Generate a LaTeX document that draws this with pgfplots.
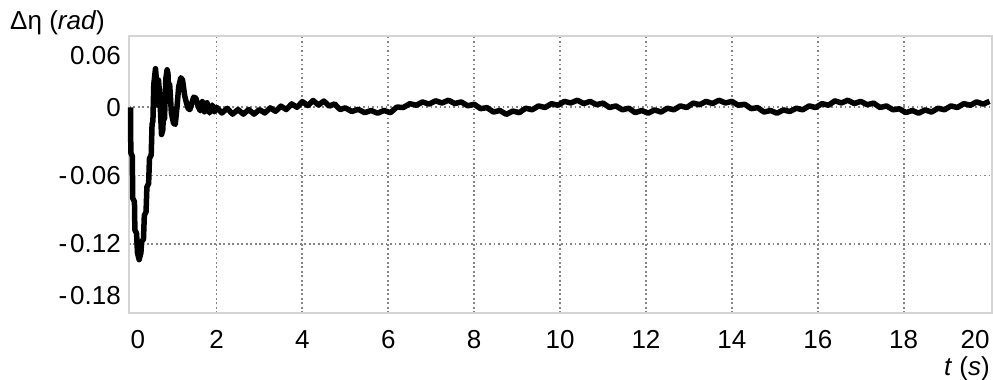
\documentclass[border=0pt]{standalone}
\usepackage{pgfplots}
\pgfplotsset{compat=1.18}
\usepackage{fontspec}
\setmainfont{Liberation Sans}
\begin{document}
\fontsize{26}{30}\selectfont
\begin{tikzpicture}
\begin{axis}[
  scale only axis, width=862.7pt, height=277pt,
  xmin=-0.037, xmax=20.05, ymin=-0.1809, ymax=0.0627,
  clip=false,
  xtick={2,4,...,18},
  xticklabels={2,4,6,8,10,12,14,16,18},
  extra x ticks={0,20},
  extra x tick labels={\makebox[0pt][l]{0},\makebox[0pt][r]{20}},
  extra x tick style={grid=none},
  ytick={-0.12,-0.06,0},
  yticklabels={-\kern3pt0.12,-\kern3pt0.06,0},
  extra y ticks={-0.18,0.06},
  extra y tick labels={\raisebox{16pt}[\height][\depth]{-\kern3pt0.18},\raisebox{-16pt}[\height][\depth]{0.06}},
  extra y tick style={grid=none},
  major tick length=0pt,
  grid=major,
  major grid style={draw=black!48, line width=1.9pt, dash pattern=on 1.9pt off 2.6pt},
  axis line style={draw=black!17, line width=1.6pt},
  tick label style={font=\fontsize{26}{30}\selectfont},
  yticklabel style={inner sep=0pt, xshift=-8pt},
  xticklabel style={anchor=base, yshift=-35pt},
]
\addplot[black, line width=5.5pt, line join=round] coordinates {
(0.000,0.000) (0.005,-0.040) (0.040,-0.043) (0.050,-0.080) (0.090,-0.083)
(0.100,-0.108) (0.140,-0.111) (0.160,-0.128) (0.200,-0.134) (0.240,-0.128)
(0.260,-0.118) (0.300,-0.116) (0.320,-0.095) (0.360,-0.092) (0.380,-0.070)
(0.420,-0.067) (0.440,-0.045) (0.480,-0.042) (0.500,-0.015) (0.520,-0.012)
(0.540,0.020) (0.580,0.034) (0.610,0.020) (0.630,0.002) (0.650,0.024)
(0.680,0.010) (0.720,-0.024) (0.750,-0.020) (0.770,0.000) (0.790,-0.010)
(0.820,0.025) (0.850,0.033) (0.870,0.030) (0.890,0.010) (0.910,0.020)
(0.950,-0.005) (1.000,-0.014) (1.040,-0.015) (1.080,0.000) (1.120,0.018)
(1.170,0.026) (1.210,0.024) (1.260,0.010) (1.300,0.004) (1.340,-0.001)
(1.380,-0.002) (1.420,0.003) (1.470,0.009) (1.520,0.008) (1.570,0.001)
(1.620,-0.003) (1.670,0.005) (1.720,-0.004) (1.780,0.004) (1.840,-0.005)
(1.900,0.002) (1.950,-0.004)
(2.000,0.000) (2.125,-0.005) (2.250,-0.001) (2.375,-0.006) (2.500,-0.002)
(2.625,-0.006) (2.750,-0.002) (2.875,-0.006) (3.000,-0.002) (3.125,-0.005)
(3.250,-0.0005) (3.375,-0.0035) (3.500,0.001) (3.625,-0.002) (3.750,0.003)
(3.875,0.000) (4.000,0.005) (4.125,0.0015) (4.250,0.006) (4.375,0.002)
(4.500,0.0055) (4.625,0.001) (4.750,0.003) (4.875,-0.002) (5.000,-0.0005)
(5.15,-0.0037) (5.30,-0.0018) (5.45,-0.0047) (5.60,-0.0028) (5.75,-0.0052)
(5.90,-0.0028) (6.05,-0.0047) (6.20,0.0002) (6.35,-0.0002) (6.50,0.0032)
(6.65,0.0018) (6.80,0.0047) (6.95,0.0028) (7.10,0.0057) (7.25,0.0038)
(7.40,0.0062) (7.55,0.0033) (7.70,0.0047) (7.85,0.0013) (8.00,0.0027)
(8.15,-0.0012) (8.30,-0.0003) (8.45,-0.0042) (8.60,-0.0028) (8.75,-0.0062)
(8.90,-0.0033) (9.05,-0.0047) (9.20,-0.0008) (9.35,-0.0022) (9.50,0.0012)
(9.65,-0.0002) (9.80,0.0032) (9.95,0.0018) (10.10,0.0052) (10.25,0.0038)
(10.40,0.0062) (10.55,0.0033) (10.70,0.0052) (10.85,0.0023) (11.00,0.0037)
(11.15,-0.0002) (11.30,0.0012) (11.45,-0.0022) (11.60,-0.0008) (11.75,-0.0047)
(11.90,-0.0028) (12.05,-0.0052) (12.20,-0.0023) (12.35,-0.0042) (12.50,-0.0008)
(12.65,-0.0022) (12.80,0.0012) (12.95,-0.0002) (13.10,0.0037) (13.25,0.0023)
(13.40,0.0052) (13.55,0.0033) (13.70,0.0062) (13.85,0.0038) (14.00,0.0052)
(14.15,0.0018) (14.30,0.0027) (14.45,-0.0012) (14.60,-0.0003) (14.75,-0.0042)
(14.90,-0.0028) (15.05,-0.0052) (15.20,-0.0023) (15.35,-0.0037) (15.50,-0.0008)
(15.65,-0.0022) (15.80,0.0012) (15.95,-0.0002) (16.10,0.0032) (16.25,0.0018)
(16.40,0.0057) (16.55,0.0038) (16.70,0.0062) (16.85,0.0033) (17.00,0.0052)
(17.15,0.0023) (17.30,0.0037) (17.45,-0.0002) (17.60,0.0012) (17.75,-0.0022)
(17.90,-0.0013) (18.05,-0.0047) (18.20,-0.0028) (18.35,-0.0052) (18.50,-0.0023)
(18.65,-0.0042) (18.80,-0.0008) (18.95,-0.0022) (19.10,0.0012) (19.25,-0.0002)
(19.40,0.0032) (19.55,0.0018) (19.70,0.0047) (19.85,0.0028) (20.00,0.0052)
};
\node[anchor=base west, inner sep=0pt] at (rel axis cs:-0.1379,1.0217) {Δη (\textit{rad})};
\node[anchor=base east, inner sep=0pt] at (rel axis cs:0.998,-0.2274) {\textit{t} (\textit{s})};
\end{axis}
\pgfresetboundingbox
\path[use as bounding box] (-129pt,-67pt) rectangle (864pt,313pt);
\end{tikzpicture}
\end{document}
